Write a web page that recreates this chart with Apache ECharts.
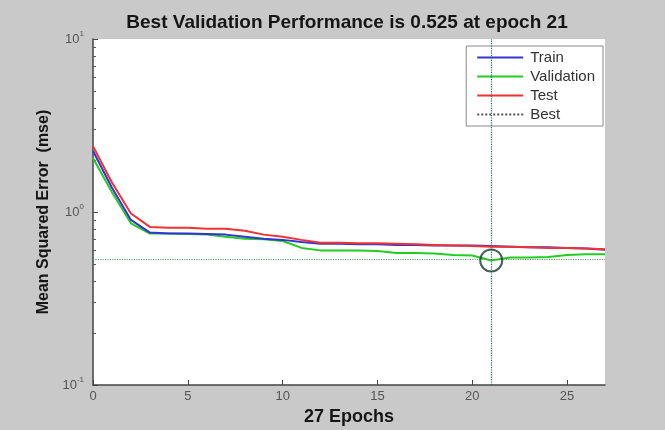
<!DOCTYPE html>
<html>
<head>
<meta charset="utf-8">
<script src="https://cdn.jsdelivr.net/npm/echarts@6/dist/echarts.min.js"></script>
<style>
html,body{margin:0;padding:0;background:#c9c9c9;}
#c{width:665px;height:430px;}
</style>
</head>
<body>
<div id="c"></div>
<script>
const epochs = [0,1,2,3,4,5,6,7,8,9,10,11,12,13,14,15,16,17,18,19,20,21,22,23,24,25,26,27];
const train = [2.25,1.38,0.90,0.76,0.75,0.75,0.745,0.74,0.72,0.70,0.69,0.67,0.655,0.655,0.65,0.65,0.645,0.645,0.64,0.64,0.64,0.635,0.63,0.625,0.625,0.62,0.615,0.605];
const validation = [2.05,1.30,0.86,0.75,0.75,0.745,0.74,0.72,0.70,0.695,0.68,0.62,0.60,0.60,0.60,0.595,0.58,0.58,0.575,0.565,0.56,0.525,0.545,0.545,0.55,0.565,0.57,0.57];
const test = [2.40,1.48,0.98,0.82,0.81,0.81,0.80,0.80,0.78,0.74,0.72,0.69,0.665,0.665,0.66,0.66,0.655,0.65,0.645,0.64,0.635,0.63,0.63,0.625,0.62,0.62,0.615,0.61];
const bestEpoch = 21;
const bestPerf = 0.525;
const xTicks = [0,5,10,15,20,25];
const yMinorTicks = [0.2,0.3,0.4,0.5,0.6,0.7,0.8,0.9,2,3,4,5,6,7,8,9];
const titleText = 'Best Validation Performance is 0.525 at epoch 21';
const xName = '27 Epochs';
const yName = 'Mean Squared Error  (mse)';

const pair = arr => arr.map((v,i)=>[epochs[i], v]);
const FONT = 'Liberation Sans, Arial, sans-serif';

const chart = echarts.init(document.getElementById('c'), null, {renderer:'canvas'});
chart.setOption({
  animation:false,
  backgroundColor:'#c9c9c9',
  title:{
    text:titleText, left:342, top:8, textAlign:'center',
    textStyle:{fontFamily:FONT, fontWeight:'bold', fontSize:19, color:'#151515'}
  },
  legend:{
    data:['Train','Validation','Test','Best'],
    orient:'vertical', right:62, top:46,
    backgroundColor:'#ffffff', borderColor:'#888', borderWidth:1,
    padding:[4,8,4,10], itemGap:4, itemWidth:46, itemHeight:14,
    itemStyle:{opacity:0},
    textStyle:{fontFamily:FONT, fontSize:15, color:'#333', padding:[0,0,0,2]}
  },
  grid:{left:93, right:60, top:39, bottom:45, show:true, backgroundColor:'#ffffff', borderWidth:0, outerBoundsMode:'none', containLabel:false},
  xAxis:{
    type:'value', min:0, max:27, interval:5,
    name:xName, nameLocation:'middle', nameGap:18,
    nameTextStyle:{fontFamily:FONT, fontWeight:'bold', fontSize:18, color:'#151515'},
    axisLine:{onZero:false, lineStyle:{color:'#444', width:1.5}},
    axisTick:{inside:true, length:5, customValues:xTicks, lineStyle:{color:'#444'}},
    axisLabel:{customValues:xTicks, margin:5, fontFamily:FONT, fontSize:13, color:'#555'},
    splitLine:{show:false}
  },
  yAxis:[{
    type:'log', logBase:10, min:0.1, max:10,
    name:yName, nameLocation:'middle', nameGap:40,
    nameTextStyle:{fontFamily:FONT, fontWeight:'bold', fontSize:16, color:'#151515'},
    axisLine:{onZero:false, lineStyle:{color:'#444', width:1.5}},
    axisTick:{inside:true, length:5, lineStyle:{color:'#444'}},
    axisLabel:{
      margin:9,
      formatter:function(v){ const e=Math.round(Math.log10(v)); return '{b|10}{s|'+e+'}'; },
      rich:{
        b:{fontFamily:FONT, fontSize:13, color:'#555', lineHeight:18},
        s:{fontFamily:FONT, fontSize:8, color:'#555', verticalAlign:'top', lineHeight:18}
      }
    },
    splitLine:{show:false}
  },{
    type:'log', logBase:10, min:0.1, max:10, position:'left', offset:0,
    axisLine:{show:false},
    axisTick:{show:true, inside:true, length:3, customValues:yMinorTicks, lineStyle:{color:'#555'}},
    axisLabel:{show:false},
    splitLine:{show:false}
  }],
  series:[
    {name:'Train', type:'line', data:pair(train), symbol:'none', z:4, color:'#3434d2', lineStyle:{width:2, color:'#3434d2'}},
    {name:'Validation', type:'line', data:pair(validation), symbol:'none', z:3, color:'#22cc22', lineStyle:{width:2, color:'#22cc22'}},
    {name:'Test', type:'line', data:pair(test), symbol:'none', z:5, color:'#ee3333', lineStyle:{width:2, color:'#ee3333'}},
    {name:'Best', type:'line', data:[], symbol:'none', color:'#555', lineStyle:{type:'dotted', width:1, color:'#555'},
      markLine:{
        silent:true, symbol:'none', label:{show:false},
        data:[
          {yAxis:bestPerf, lineStyle:{type:'dotted', width:1.2, color:'#5aa05a'}},
          {xAxis:bestEpoch, lineStyle:{type:'dotted', width:1.2, color:'#1f6a6a'}}
        ]
      }
    },
    {name:'BestPoint', type:'scatter', data:[[bestEpoch,bestPerf]], symbol:'circle', symbolSize:22, z:6,
      itemStyle:{color:'rgba(0,0,0,0)', borderColor:'#133d2c', borderWidth:2}}
  ]
});
</script>
</body>
</html>
